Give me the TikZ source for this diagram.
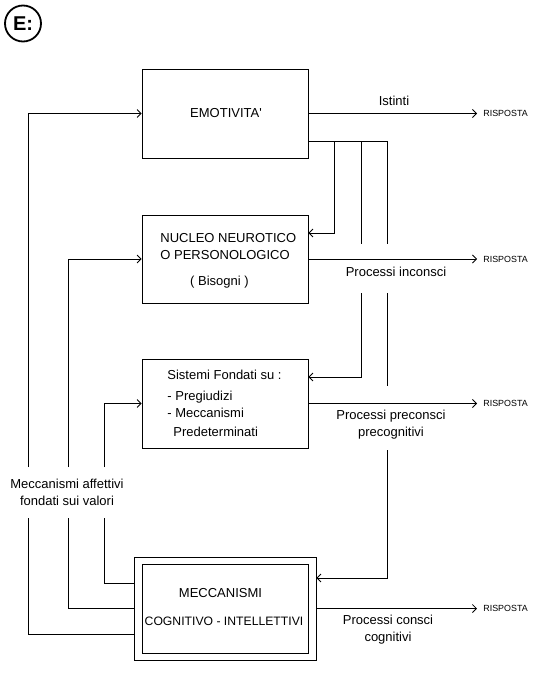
\documentclass[tikz,border=0pt]{standalone}
\usepackage{fontspec}
\setmainfont{Liberation Sans}
\usetikzlibrary{arrows.meta,calc}
\begin{document}
\begin{tikzpicture}[x=1pt,y=-1pt, line width=0.8pt,
 arr/.style={-{Straight Barb[length=4pt,width=8pt,line width=0.8pt]}},
 box/.style={draw, line width=0.8pt, inner sep=0pt},
 lbl/.style={font=\fontsize{13}{17}\selectfont, inner sep=0pt},
 resp/.style={font=\fontsize{8.9}{10}\selectfont, inner xsep=6pt, inner ysep=0pt, anchor=west}]
\useasboundingbox (0,0) rectangle (540,685);
\node[draw, circle, line width=1.8pt, minimum size=36pt, inner sep=0pt, font=\bfseries\fontsize{20}{20}\selectfont] (E) at (23,23.5) {E:};
% boxes
\node[box, minimum width=166pt, minimum height=89pt] (emo) at (225,113.5) {};
\node[box, minimum width=166pt, minimum height=88pt] (nuc) at (225,259) {};
\node[box, minimum width=166pt, minimum height=89pt] (sis) at (225,403.5) {};
\node[box, minimum width=182pt, minimum height=103pt] (mecO) at (225,608.5) {};
\node[box, minimum width=166pt, minimum height=89pt] (mecI) at (225,608.5) {};
% box texts
\node[lbl] (temo) at (226,113) {EMOTIVITA\textquotesingle};
\node[lbl, anchor=west] (tn1) at (160,238) {NUCLEO NEUROTICO};
\node[lbl, anchor=west] (tn2) at (160,255) {O PERSONOLOGICO};
\node[lbl] (tn3) at (219.5,282) {( Bisogni )};
\node[lbl, anchor=west] (ts1) at (167,375) {Sistemi Fondati su :};
\node[lbl, anchor=west] (ts2) at (167,397) {- Pregiudizi};
\node[lbl, anchor=west] (ts3) at (167,413) {- Meccanismi};
\node[lbl, anchor=west] (ts4) at (173,432) {Predeterminati};
\node[lbl] (tm1) at (220.5,593) {MECCANISMI};
\node[lbl, font=\fontsize{12.2}{15}\selectfont] (tm2) at (224,621) {COGNITIVO - INTELLETTIVI};
% left side
\node[lbl, align=center] (maff) at (67,492.5) {Meccanismi affettivi\\fondati sui valori};
\coordinate (a1) at (28,467); \coordinate (a1b) at (28,518);
\coordinate (a2) at (68,467); \coordinate (a2b) at (68,518);
\coordinate (a3) at (104,467); \coordinate (a3b) at (104,518);
\draw[arr] (a1) |- (emo.west);
\draw[arr] (a2) |- (nuc.west);
\draw[arr] (a3) |- (sis.west);
\draw (a1b) |- ([yshift=-25.5pt]mecO.west);
\draw (a2b) |- (mecO.west);
\draw (a3b) |- ([yshift=25.5pt]mecO.west);
% right side responses
\node[resp] (r1) at (477,113.5) {RISPOSTA};
\node[resp] (r2) at (477,259) {RISPOSTA};
\node[resp] (r3) at (477,403.5) {RISPOSTA};
\node[resp] (r4) at (477,608.5) {RISPOSTA};
\draw[arr] (emo.east) -- (r1.west);
\draw[arr] (nuc.east) -- (r2.west);
\draw[arr] (sis.east) -- (r3.west);
\draw[arr] (mecO.east) -- (r4.west);
\node[lbl] (l1) at (394,101) {Istinti};
\node[lbl] (l2) at (396,272) {Processi inconsci};
\node[lbl, align=center] (l3) at (391,424.5) {Processi preconsci\\precognitivi};
\node[lbl, align=center] (l4) at (388,630) {Processi consci\\cognitivi};
% branches from emotivita
\coordinate (e2) at ([yshift=-27.5pt]emo.east);
\coordinate (n2) at ([yshift=26pt]nuc.east);
\coordinate (s2) at ([yshift=26.5pt]sis.east);
\coordinate (m2) at ([yshift=30.5pt]mecO.east);
\coordinate (v1) at (334,141);
\coordinate (v2) at (361,141); \coordinate (v2a) at (361,244); \coordinate (v2b) at (361,293);
\coordinate (v3) at (387,141); \coordinate (v3a) at (387,244); \coordinate (v3b) at (387,293);
\coordinate (v3c) at (387,386); \coordinate (v3d) at (387,450);
\draw (e2) -- (v3);
\draw[arr] (v1) |- (n2);
\draw (v2) -- (v2a);
\draw[arr] (v2b) |- (s2);
\draw (v3) -- (v3a);
\draw (v3b) -- (v3c);
\draw[arr] (v3d) |- (m2);
\end{tikzpicture}
\end{document}
